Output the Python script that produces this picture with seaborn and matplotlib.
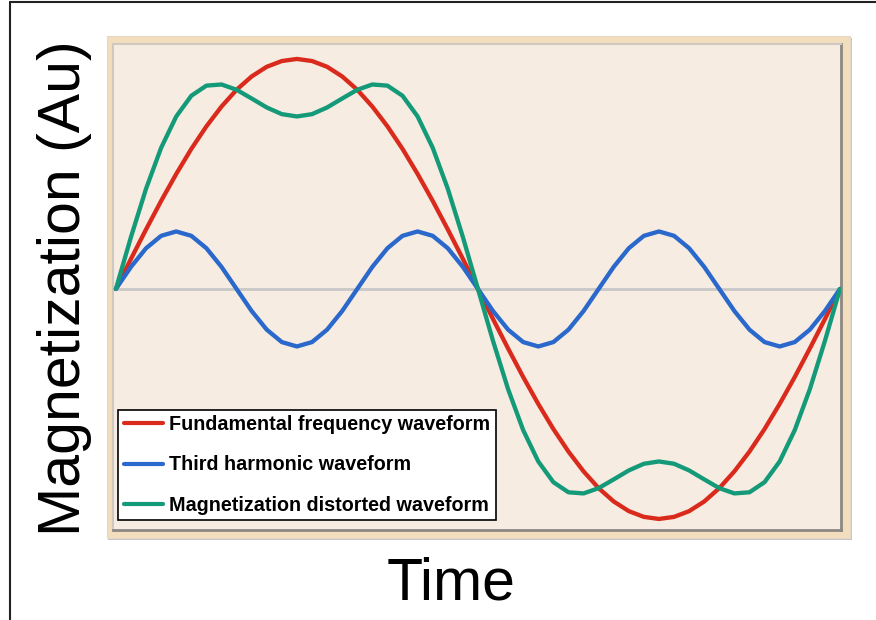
import numpy as np
import pandas as pd
import matplotlib
matplotlib.use("Agg")
import matplotlib.pyplot as plt
from matplotlib.lines import Line2D
from matplotlib.patches import Rectangle
import seaborn as sns

# one period of the waveforms (48 steps)
time = np.linspace(0, 1, 49)

fundamental = [0.000, 0.131, 0.259, 0.383, 0.500, 0.609, 0.707, 0.793, 0.866, 0.924, 0.966, 0.991,
               1.000, 0.991, 0.966, 0.924, 0.866, 0.793, 0.707, 0.609, 0.500, 0.383, 0.259, 0.131,
               0.000, -0.131, -0.259, -0.383, -0.500, -0.609, -0.707, -0.793, -0.866, -0.924, -0.966, -0.991,
               -1.000, -0.991, -0.966, -0.924, -0.866, -0.793, -0.707, -0.609, -0.500, -0.383, -0.259, -0.131,
               0.000]

third = [0.000, 0.096, 0.177, 0.231, 0.250, 0.231, 0.177, 0.096, 0.000, -0.096, -0.177, -0.231,
         -0.250, -0.231, -0.177, -0.096, 0.000, 0.096, 0.177, 0.231, 0.250, 0.231, 0.177, 0.096,
         0.000, -0.096, -0.177, -0.231, -0.250, -0.231, -0.177, -0.096, 0.000, 0.096, 0.177, 0.231,
         0.250, 0.231, 0.177, 0.096, 0.000, -0.096, -0.177, -0.231, -0.250, -0.231, -0.177, -0.096,
         0.000]

distorted = [0.000, 0.226, 0.436, 0.614, 0.750, 0.840, 0.884, 0.889, 0.866, 0.828, 0.789, 0.760,
             0.750, 0.760, 0.789, 0.828, 0.866, 0.889, 0.884, 0.840, 0.750, 0.614, 0.436, 0.226,
             0.000, -0.226, -0.436, -0.614, -0.750, -0.840, -0.884, -0.889, -0.866, -0.828, -0.789, -0.760,
             -0.750, -0.760, -0.789, -0.828, -0.866, -0.889, -0.884, -0.840, -0.750, -0.614, -0.436, -0.226,
             0.000]

labels = ["Fundamental frequency waveform", "Third harmonic waveform",
          "Magnetization distorted waveform"]
colors = ["#DA2A1C", "#2A68CC", "#149A78"]

df = pd.concat([
    pd.DataFrame({"time": time, "value": fundamental, "series": labels[0]}),
    pd.DataFrame({"time": time, "value": third, "series": labels[1]}),
    pd.DataFrame({"time": time, "value": distorted, "series": labels[2]}),
], ignore_index=True)

sns.set_theme(style="white")
plt.rcParams["font.family"] = ["Liberation Sans", "DejaVu Sans"]

W, H = 876, 620
fig = plt.figure(figsize=(W / 100, H / 100), dpi=100)
fig.patch.set_facecolor("white")

# tan picture frame behind the plot area
fig.patches.append(Rectangle((108 / W, 1 - 540 / H), (852 - 108) / W, (540 - 38) / H,
                             transform=fig.transFigure, facecolor="#C9C4BE",
                             edgecolor="none", zorder=-2))
fig.patches.append(Rectangle((107 / W, 1 - 538 / H), (850 - 107) / W, (538 - 36) / H,
                             transform=fig.transFigure, facecolor="#F2DDBD",
                             edgecolor="#E3D7CA", lw=0.8, zorder=-1))

ax = fig.add_axes([113 / W, 1 - 530 / H, (841 - 113) / W, (530 - 44) / H])
ax.set_facecolor("#F6ECE2")

ax.axhline(0, color="#C8C8C8", lw=2, zorder=1)
sns.lineplot(data=df, x="time", y="value", hue="series", hue_order=labels,
             palette=dict(zip(labels, colors)), estimator=None, sort=False,
             lw=3.1, legend=False, ax=ax, zorder=3,
             solid_joinstyle="round", solid_capstyle="round")

ax.set_xlim(-0.004, 1.0014)
ax.set_ylim(-1.048, 1.065)
ax.set_xticks([])
ax.set_yticks([])

for side in ["left", "top"]:
    ax.spines[side].set_color("#CFC8C0")
    ax.spines[side].set_linewidth(1.5)
for side in ["right", "bottom"]:
    ax.spines[side].set_color("#8C8782")
    ax.spines[side].set_linewidth(2)

ax.set_xlabel("Time", fontsize=42.5, va="baseline", color="black")
ax.xaxis.set_label_coords(0.465, (530 - 600) / 486)
ax.set_ylabel("Magnetization (Au)", fontsize=42.5, va="baseline", color="black")
ax.yaxis.set_label_coords((80 - 113) / 728, (530 - 288.5) / 486)

handles = [Line2D([], [], color=c, lw=3) for c in colors]
leg = ax.legend(handles, labels, loc="lower left", bbox_to_anchor=(0.007, 0.02),
                borderaxespad=0, frameon=True, fancybox=False, framealpha=1,
                prop={"family": "Liberation Sans", "weight": "bold", "size": 14.2},
                handlelength=2.0, handletextpad=0.3, labelspacing=1.08,
                borderpad=0.28)
leg.get_frame().set_edgecolor("black")
leg.get_frame().set_linewidth(1.2)
leg.get_frame().set_facecolor("white")
for t in leg.get_texts():
    t.set_color("black")

# outer border of the picture (top and left edge)
fig.add_artist(Line2D([9.5 / W, 9.5 / W], [0, 1 - 1.5 / H], transform=fig.transFigure,
                      color="#222222", lw=1.5))
fig.add_artist(Line2D([9.5 / W, 1], [1 - 1.5 / H, 1 - 1.5 / H], transform=fig.transFigure,
                      color="#222222", lw=1.5))

fig.savefig("out.png", dpi=100)
